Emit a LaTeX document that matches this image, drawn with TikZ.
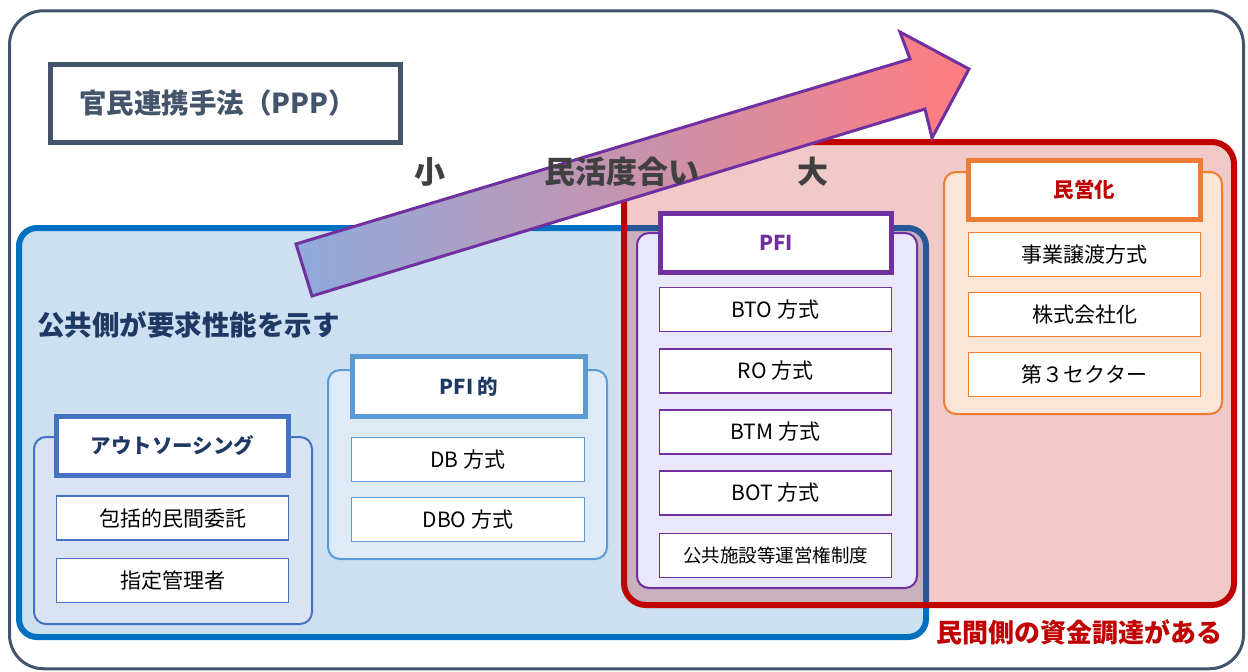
\documentclass[tikz,border=0pt]{standalone}
\usepackage{fontspec}
\setmainfont{Noto Sans CJK JP}
\definecolor{slate}{HTML}{44546A}
\definecolor{bluebd}{HTML}{0070C0}
\definecolor{bluefill}{HTML}{CCE0F1}
\definecolor{aobd}{HTML}{4472C4}
\definecolor{aofill}{HTML}{DAE3F3}
\definecolor{pfitbd}{HTML}{5B9BD5}
\definecolor{pfitfill}{HTML}{DEEBF7}
\definecolor{purp}{HTML}{7030A0}
\definecolor{lav}{HTML}{E9E8FB}
\definecolor{redbd}{HTML}{C00000}
\definecolor{orbd}{HTML}{ED7D31}
\definecolor{orfill}{HTML}{FBE5D6}
\definecolor{navy}{HTML}{1F3864}
\definecolor{dgray}{HTML}{404040}
\definecolor{arrL}{HTML}{8FAADC}
\definecolor{arrR}{HTML}{FF7C80}
\newcommand{\fsz}[1]{\fontsize{#1}{#1}\selectfont}
\tikzset{
  box/.style={draw, inner sep=0pt, outer sep=0pt},
  grp/.style={box, rounded corners=12pt, line width=2pt},
  hdr/.style={box, line width=5pt, fill=white, font=\bfseries\fsz{20.5}},
  item/.style={box, line width=1.5pt, fill=white, font=\fsz{21}, minimum width=232pt, minimum height=44pt},
  lbl/.style={inner sep=0pt, font=\bfseries\fsz{31}, text=dgray},
}
\begin{document}
\begin{tikzpicture}[x=1pt,y=-1pt]
\useasboundingbox (0,0) rectangle (1248,672);
% outer frame
\node[box, rounded corners=34pt, line width=3pt, draw=slate, minimum width=1234pt, minimum height=658pt] (frame) at (626.5,339.75) {};
% title
\node[box, line width=5pt, draw=slate, fill=white, minimum width=350pt, minimum height=78pt, font=\bfseries\fsz{27.5}, text=slate] (title) at (225.5,103.5) {\hspace*{-16pt}官民連携手法（PPP）};
% blue region
\node[box, rounded corners=18pt, line width=6pt, draw=bluebd, fill=bluefill, minimum width=907pt, minimum height=409pt] (blue) at (472.5,432.5) {};
% red region
\node[box, rounded corners=22pt, line width=6pt, draw=redbd, fill=redbd, fill opacity=0.21, minimum width=610pt, minimum height=463pt] (red) at (929,373.5) {};
% outsourcing group
\node[grp, draw=aobd, fill=aofill, minimum width=278pt, minimum height=187pt] (aog) at (173,530.5) {};
\node[hdr, draw=aobd, text=navy, minimum width=232pt, minimum height=59pt] (aoh) at (172.5,446) {アウトソーシング};
\node[item, draw=aobd] (ao1) at (172.5,518) {包括的民間委託};
\node[item, draw=aobd] (ao2) at (172.5,580.5) {指定管理者};
% PFI-like group
\node[grp, draw=pfitbd, fill=pfitfill, minimum width=279pt, minimum height=189pt] (ptg) at (467.5,464.5) {};
\node[hdr, draw=pfitbd, text=navy, minimum width=233pt, minimum height=60pt] (pth) at (469,386.5) {PFI 的};
\node[item, draw=pfitbd, minimum width=233pt] (pt1) at (468,459.5) {DB 方式};
\node[item, draw=pfitbd, minimum width=233pt] (pt2) at (468,519.5) {DBO 方式};
% PFI group
\node[grp, draw=purp, fill=lav, minimum width=280pt, minimum height=355pt] (pfg) at (777,410.5) {};
\node[hdr, draw=purp, text=purp, minimum width=231pt, minimum height=59pt] (pfh) at (776,243) {PFI};
\node[item, draw=purp] (pf1) at (775.5,309.5) {BTO 方式};
\node[item, draw=purp] (pf2) at (775.5,371) {RO 方式};
\node[item, draw=purp] (pf3) at (775.5,432) {BTM 方式};
\node[item, draw=purp] (pf4) at (775.5,493) {BOT 方式};
\node[item, draw=purp, font=\fsz{18.5}] (pf5) at (775.5,555.5) {公共施設等運営権制度};
% privatisation group
\node[grp, draw=orbd, fill=orfill, minimum width=278pt, minimum height=242pt] (mig) at (1083,293) {};
\node[hdr, draw=orbd, text=redbd, minimum width=232pt, minimum height=59pt] (mih) at (1084.5,190) {民営化};
\node[item, draw=orbd] (mi1) at (1084.5,254.5) {事業譲渡方式};
\node[item, draw=orbd] (mi2) at (1084.5,314.5) {株式会社化};
\node[item, draw=orbd] (mi3) at (1084.5,374.5) {第３セクター};
% big arrow
\shade[left color=arrL, right color=arrR, draw=purp, line width=3pt, line join=miter]
  (296,244) -- (910,59) -- (900,32) -- (969,69) -- (932,138) -- (925,109) -- (312,296) -- cycle;
% labels
\node[lbl] (small) at (430,172) {小};
\node[lbl] (degree) at (622,172) {民活度合い};
\node[lbl] (large) at (813,172) {大};
\node[inner sep=0pt, anchor=west, font=\bfseries\fsz{27.5}, text=navy] (pub) at (37,325) {公共側が要求性能を示す};
\node[inner sep=0pt, font=\bfseries\fsz{26}, text=redbd] (priv) at (1079,632) {民間側の資金調達がある};
\end{tikzpicture}
\end{document}
